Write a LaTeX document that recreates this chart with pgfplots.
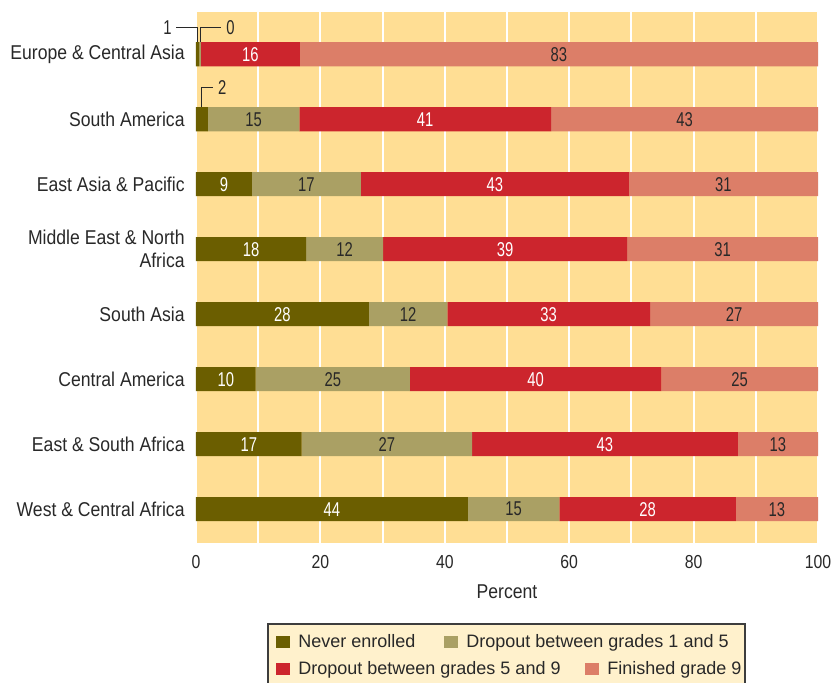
\documentclass[border=0pt]{standalone}
\usepackage{fontspec}
\setmainfont{Liberation Sans}[FakeStretch=0.88]
\newfontfamily\numfont{Liberation Sans}[FakeStretch=0.74]
\newfontfamily\tickfont{Liberation Sans}[FakeStretch=0.84]
\newfontfamily\legfont{Liberation Sans}
\usepackage{pgfplots}
\usepackage{pgfplotstable}
\pgfplotsset{compat=1.18}

\definecolor{never}{HTML}{6B5E00}
\definecolor{dropa}{HTML}{AAA064}
\definecolor{dropb}{HTML}{CC252D}
\definecolor{fin}{HTML}{DC7E68}
\definecolor{bg}{HTML}{FFDE94}
\definecolor{legbg}{HTML}{FFF1CC}
\definecolor{txt}{HTML}{282828}

% y: 0 = West & Central Africa ... 7 = Europe & Central Asia
% a..d = bar lengths, la..ld = printed labels
\pgfplotstableread{
y  a     b     c     d     la  lb  lc  ld
7  0.5   0.3   15.9  83.3  {}  {}  16  83
6  1.9   14.7  40.5  42.9  {}  15  41  43
5  9.0   17.5  43.1  30.4  9   17  43  31
4  17.7  12.4  39.2  30.7  18  12  39  31
3  27.8  12.6  32.6  27.0  28  12  33  27
2  9.6   24.8  40.4  25.2  10  25  40  25
1  17.0  27.4  42.7  12.9  17  27  43  13
0  43.7  14.7  28.4  13.2  44  15  28  13
}\shares

\pgfplotsset{
  frame/.style={
    scale only axis, width=311pt, height=265.5pt,
    at={(0pt,0pt)}, anchor=south west,
    xmin=0, xmax=100, ymin=-0.52, ymax=7.65, clip=false},
}

\begin{document}
\begin{tikzpicture}
\useasboundingbox (-98pt,-70pt) rectangle (319.5pt,271.5pt);
\begin{axis}[
  frame,
  xbar stacked, bar width=0.37,
  axis background/.style={fill=bg},
  axis line style={draw=none},
  major tick length=0pt, minor tick length=0pt,
  xtick={0,20,...,100}, minor xtick={10,30,...,90},
  xmajorgrids, xminorgrids,
  major grid style={white, line width=1pt},
  minor grid style={white, line width=1pt},
  ytick={0,...,7},
  yticklabels={West \& Central Africa, East \& South Africa, Central America, South Asia,
    {Middle East \& North\\Africa}, East Asia \& Pacific, South America, Europe \& Central Asia},
  yticklabel style={align=right, anchor=east, inner sep=0pt, xshift=-5.5pt,
    font=\fontsize{10}{11.5}\selectfont, text=txt},
  /pgf/number format/assume math mode=true,
  xticklabel style={anchor=center, yshift=-9.3pt, font=\tickfont\fontsize{9.4}{11}\selectfont, text=txt},
  xlabel={Percent},
  xlabel style={at={(axis description cs:0.5,-0.092)}, anchor=center,
    font=\fontsize{10}{12}\selectfont, text=txt},
]
\addplot[fill=never, draw=none] table[x=a, y=y] {\shares};
\addplot[fill=dropa, draw=none] table[x=b, y=y] {\shares};
\addplot[fill=dropb, draw=none] table[x=c, y=y] {\shares};
\addplot[fill=fin, draw=none] table[x=d, y=y] {\shares};

% leader lines for the thin segments
\draw[txt, line width=0.7pt] (axis cs:-3.2,7.415) -- (axis cs:0.25,7.415) -- (axis cs:0.25,7.185);
\draw[txt, line width=0.7pt] (axis cs:0.75,7.185) -- (axis cs:0.75,7.415) -- (axis cs:4.0,7.415);
\draw[txt, line width=0.7pt] (axis cs:0.9,6.185) -- (axis cs:0.9,6.49) -- (axis cs:2.7,6.49);
\node[anchor=east, inner sep=2pt, text=txt, font=\numfont\fontsize{10}{12}\selectfont] at (axis cs:-3.2,7.415) {1};
\node[anchor=west, inner sep=2.5pt, text=txt, font=\numfont\fontsize{10}{12}\selectfont] at (axis cs:4.0,7.415) {0};
\node[anchor=west, inner sep=2.5pt, text=txt, font=\numfont\fontsize{10}{12}\selectfont] at (axis cs:2.7,6.49) {2};
\end{axis}

% labels centred on the segments
\begin{axis}[
  frame, hide axis,
  nodes near coords, point meta=explicit symbolic,
  every node near coord/.append style={anchor=center, inner sep=0pt,
    font=\numfont\fontsize{10}{12}\selectfont},
]
\addplot[draw=none, every node near coord/.append style={text=white}]
  table[x expr=0.5*\thisrow{a}, y=y, meta=la] {\shares};
\addplot[draw=none, every node near coord/.append style={text=txt}]
  table[x expr=\thisrow{a}+0.5*\thisrow{b}, y=y, meta=lb] {\shares};
\addplot[draw=none, every node near coord/.append style={text=white}]
  table[x expr=\thisrow{a}+\thisrow{b}+0.5*\thisrow{c}, y=y, meta=lc] {\shares};
\addplot[draw=none, every node near coord/.append style={text=txt}]
  table[x expr=\thisrow{a}+\thisrow{b}+\thisrow{c}+0.5*\thisrow{d}, y=y, meta=ld] {\shares};
\end{axis}

% legend
\draw[fill=legbg, draw=txt!90, line width=0.6pt] (36pt,-40.5pt) rectangle (274.5pt,-72pt);
\begin{scope}[every node/.style={anchor=base west, inner sep=0pt, text=txt,
    font=\legfont\fontsize{9}{10}\selectfont}]
\fill[never] (40pt,-52.3pt) rectangle ++(7pt,6pt);
\node at (51pt,-52.3pt) {Never enrolled};
\fill[dropa] (124pt,-52.3pt) rectangle ++(7pt,6pt);
\node at (135pt,-52.3pt) {Dropout between grades 1 and 5};
\fill[dropb] (40pt,-66pt) rectangle ++(7pt,6pt);
\node at (51pt,-66pt) {Dropout between grades 5 and 9};
\fill[fin] (194.5pt,-66pt) rectangle ++(7pt,6pt);
\node at (205.5pt,-66pt) {Finished grade 9};
\end{scope}
\end{tikzpicture}
\end{document}
